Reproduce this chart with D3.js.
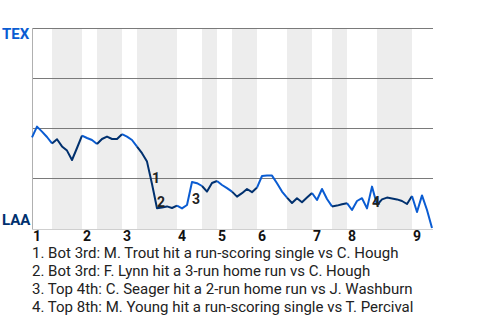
<!DOCTYPE html>
<html>
<head>
<meta charset="utf-8">
<script src="https://cdn.jsdelivr.net/npm/d3@7"></script>
<style>
  html, body { margin: 0; padding: 0; background: #fff; }
  svg { display: block; font-family: Roboto, "Noto Sans", sans-serif; }
</style>
</head>
<body>
<div id="chart"></div>
<script>
(function () {
  'use strict';

  // TEX win probability after each plate appearance (0 = LAA wins, 1 = TEX wins)
  var winProb = [
    0.453, 0.507, 0.482, 0.455, 0.423, 0.444, 0.408, 0.387, 0.340, 0.400,
    0.462, 0.450, 0.440, 0.420, 0.445, 0.457, 0.445, 0.445, 0.469, 0.457,
    0.440, 0.407, 0.374, 0.332, 0.220, 0.099, 0.103, 0.108, 0.100, 0.112,
    0.098, 0.115, 0.230, 0.224, 0.210, 0.182, 0.225, 0.235, 0.215, 0.199,
    0.182, 0.157, 0.174, 0.195, 0.179, 0.202, 0.260, 0.262, 0.262, 0.224,
    0.182, 0.152, 0.125, 0.149, 0.129, 0.152, 0.175, 0.140, 0.195, 0.145,
    0.108, 0.112, 0.119, 0.124, 0.090, 0.135, 0.149, 0.098, 0.207, 0.115,
    0.143, 0.152, 0.148, 0.143, 0.135, 0.120, 0.160, 0.080, 0.163, 0.090,
    0.000
  ];

  // first event index of each half-inning, top 1st .. top 9th, then the last index
  var halfStarts = [0, 4, 10, 13, 18, 21, 29, 34, 37, 40, 45, 51, 56, 60, 63, 69, 76, 80];
  var inningLabels = ['1', '2', '3', '4', '5', '6', '7', '8', '9'];

  var teams = { top: 'TEX', bottom: 'LAA' };
  var gridValues = [0.25, 0.5, 0.75, 1];

  var annotationEvents = [24, 25, 32, 68];
  var annotationTexts = [
    '1. Bot 3rd: M. Trout hit a run-scoring single vs C. Hough',
    '2. Bot 3rd: F. Lynn hit a 3-run home run vs C. Hough',
    '3. Top 4th: C. Seager hit a 2-run home run vs J. Washburn',
    '4. Top 8th: M. Young hit a run-scoring single vs T. Percival'
  ];

  var W = 480, H = 320;
  var plot = { left: 32, right: 432, top: 28, bottom: 228 };
  var colorTop = '#0a5cd2';
  var colorBottom = '#00306e';

  var svg = d3.select('#chart').append('svg').attr('width', W).attr('height', H);

  var x = d3.scaleLinear().domain([0, winProb.length - 1]).range([plot.left, plot.right]);
  var y = d3.scaleLinear().domain([0, 1]).range([plot.bottom, plot.top]);

  // half-inning list
  var halves = [];
  for (var i = 0; i < halfStarts.length - 1; i++) {
    halves.push({ start: halfStarts[i], end: halfStarts[i + 1], bottom: i % 2 === 1 });
  }

  // shaded bottom halves
  svg.append('g').selectAll('rect')
    .data(halves.filter(function (h) { return h.bottom; }))
    .join('rect')
    .attr('x', function (h) { return x(h.start); })
    .attr('y', plot.top)
    .attr('width', function (h) { return x(h.end) - x(h.start); })
    .attr('height', plot.bottom + 2 - plot.top)
    .attr('fill', '#ededed');

  // grid lines
  svg.append('g').selectAll('line')
    .data(gridValues)
    .join('line')
    .attr('x1', plot.left).attr('x2', plot.right + 1)
    .attr('y1', function (d) { return Math.round(y(d)) + 0.5; })
    .attr('y2', function (d) { return Math.round(y(d)) + 0.5; })
    .attr('stroke', '#7a7a7a')
    .attr('stroke-width', 1);

  // left + bottom frame
  svg.append('line')
    .attr('x1', plot.left + 0.5).attr('x2', plot.left + 0.5)
    .attr('y1', plot.top).attr('y2', plot.bottom + 2)
    .attr('stroke', '#b0b0b0');
  svg.append('line')
    .attr('x1', plot.left).attr('x2', plot.right + 1)
    .attr('y1', plot.bottom + 1.5).attr('y2', plot.bottom + 1.5)
    .attr('stroke', '#cfcfcf');

  // win probability line, one path per half-inning
  var line = d3.line()
    .x(function (d) { return x(d.i); })
    .y(function (d) { return y(d.p); });

  var pts = winProb.map(function (p, i) { return { i: i, p: p }; });

  svg.append('g').selectAll('path')
    .data(halves)
    .join('path')
    .attr('d', function (h) { return line(pts.slice(h.start, h.end + 1)); })
    .attr('fill', 'none')
    .attr('stroke', function (h) { return h.bottom ? colorBottom : colorTop; })
    .attr('stroke-width', 2)
    .attr('stroke-linejoin', 'round');

  // event markers on the line
  svg.append('g').selectAll('text')
    .data(annotationEvents)
    .join('text')
    .attr('x', function (k) { return x(k); })
    .attr('y', function (k) { return Math.max(y(winProb[k - 1]), y(winProb[k])) - 1; })
    .attr('font-size', '14px')
    .attr('font-weight', 'bold')
    .attr('fill', '#222')
    .text(function (k, i) { return String(i + 1); });

  // team labels
  svg.append('text')
    .attr('x', 2).attr('y', y(1) + 11)
    .attr('font-size', '15px').attr('font-weight', 'bold')
    .attr('fill', colorTop)
    .text(teams.top);
  svg.append('text')
    .attr('x', 2).attr('y', y(0) - 3)
    .attr('font-size', '15px').attr('font-weight', 'bold')
    .attr('fill', colorBottom)
    .text(teams.bottom);

  // inning numbers
  svg.append('g').selectAll('text')
    .data(inningLabels)
    .join('text')
    .attr('x', function (d, i) { return x(halfStarts[i * 2]) + 1; })
    .attr('y', plot.bottom + 13)
    .attr('font-size', '14px')
    .attr('font-weight', 'bold')
    .attr('fill', '#111')
    .text(function (d) { return d; });

  // legend of events
  svg.append('g').selectAll('text')
    .data(annotationTexts)
    .join('text')
    .attr('x', plot.left)
    .attr('y', function (d, i) { return 258 + i * 18; })
    .attr('font-size', '15px')
    .attr('fill', '#222')
    .text(function (d) { return d; });
})();
</script>
</body>
</html>
